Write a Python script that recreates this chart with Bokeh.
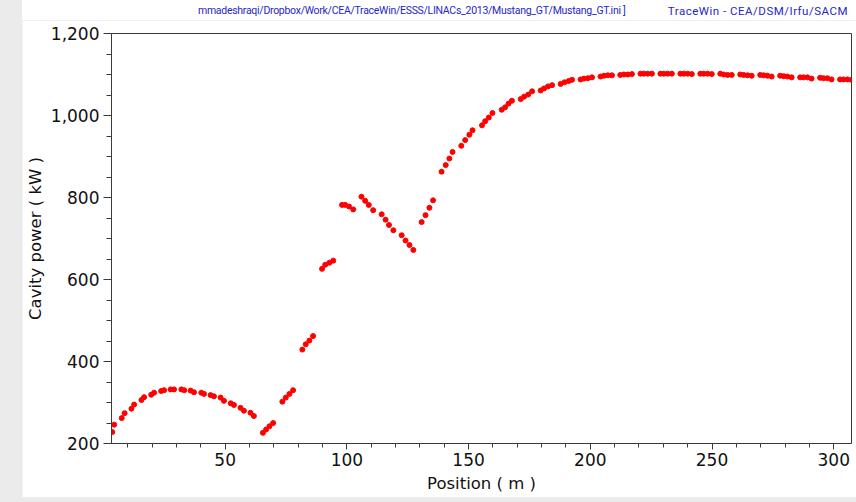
from bokeh.plotting import figure
from bokeh.models import (ColumnDataSource, SingleIntervalTicker, NumeralTickFormatter,
                          Range1d, Spacer, Div)
from bokeh.layouts import row, column
from bokeh.embed import file_html
from bokeh.resources import INLINE

# Cavity positions along the linac (m)
position_m = [
    3.6, 4.4, 7.5, 8.7, 11.5, 12.6, 15.6, 16.7, 19.6, 20.8,
    23.7, 24.9, 27.6, 29.0, 32.0, 33.2, 35.8, 37.2, 40.2, 41.3,
    44.0, 45.4, 48.1, 49.5, 52.3, 53.6, 56.3, 57.7, 60.4, 61.8,
    65.5, 66.8, 68.2, 69.7, 73.5, 74.9, 76.4, 77.9,
    81.7, 83.1, 84.6, 86.1, 89.8, 91.1, 92.8, 94.4,
    98.0, 99.3, 100.9, 102.6, 106.0, 107.5, 109.0, 110.8,
    114.3, 115.9, 117.3, 119.1, 122.5, 124.1, 125.7, 127.3,
    130.7, 132.3, 133.9, 135.4, 138.9, 140.6, 142.1, 143.4,
    147.0, 148.6, 150.3, 151.6, 155.5, 156.8, 158.3, 159.8,
    163.6, 165.0, 166.4, 167.8, 171.4, 172.8, 174.5, 176.1,
    179.6, 181.0, 182.6, 184.3, 187.8, 189.4, 191.1, 192.5,
    196.0, 197.4, 199.0, 200.7, 204.2, 205.6, 207.2, 208.9,
    212.3, 213.8, 215.4, 217.1, 220.6, 222.0, 223.6, 225.3,
    228.8, 230.2, 231.8, 233.5, 237.0, 238.4, 240.0, 241.7,
    245.2, 246.6, 248.2, 249.9, 253.4, 254.8, 256.4, 258.1,
    261.6, 263.0, 264.6, 266.3, 269.8, 271.2, 272.8, 274.5,
    278.0, 279.4, 281.0, 282.7, 286.2, 287.6, 289.2, 290.9,
    294.4, 295.8, 297.4, 299.1, 302.6, 304.0, 305.6, 307.3,
]

# Power delivered by each cavity (kW)
cavity_power_kw = [
    228, 246, 262, 274, 285, 295, 306, 313, 319, 324,
    328, 330, 332, 332, 332, 330, 329, 325, 324, 321,
    318, 315, 312, 304, 298, 294, 287, 280, 275, 267,
    226, 234, 242, 250, 302, 312, 321, 330,
    429, 442, 451, 462, 626, 636, 641, 646,
    782, 782, 778, 771, 802, 792, 782, 769,
    759, 746, 733, 720, 708, 695, 684, 672,
    740, 757, 775, 793, 863, 879, 895, 911,
    926, 940, 953, 964, 976, 986, 995, 1006,
    1014, 1020, 1029, 1036, 1040, 1046, 1051, 1059,
    1061, 1066, 1071, 1074, 1077, 1081, 1084, 1087,
    1088, 1090, 1091, 1093, 1095, 1097, 1098, 1098,
    1099, 1100, 1100, 1101, 1102, 1102, 1102, 1102,
    1102, 1102, 1102, 1102, 1102, 1102, 1102, 1101,
    1102, 1102, 1102, 1101, 1102, 1100, 1099, 1099,
    1100, 1099, 1098, 1097, 1099, 1098, 1097, 1095,
    1097, 1096, 1095, 1093, 1093, 1093, 1093, 1090,
    1092, 1091, 1091, 1088, 1088, 1088, 1088, 1087,
]

file_path_text = "mmadeshraqi/Dropbox/Work/CEA/TraceWin/ESSS/LINACs_2013/Mustang_GT/Mustang_GT.ini ]"
credit_text = "TraceWin - CEA/DSM/Irfu/SACM"

FONT = "DejaVu Sans"
FIG_WIDTH = 834

# --- header strip: input file path on the left, program credit on the right
header_html = (
    '<div style="position:relative;width:834px;height:20px;background:#ffffff;'
    'font-family:Roboto;color:#2626c8;white-space:nowrap;">'
    '<span style="position:absolute;left:176px;top:3px;font-size:10.5px;letter-spacing:-0.28px;">'
    + file_path_text +
    '</span>'
    '<span style="position:absolute;right:8px;top:3px;font-size:11.5px;letter-spacing:0.5px;">'
    + credit_text +
    '</span></div>'
)
header = Div(text=header_html, width=FIG_WIDTH, height=20,
             styles={"background-color": "#ffffff", "margin": "0", "padding": "0"})

# --- main scatter of cavity power against position
source = ColumnDataSource(data=dict(x=position_m, y=cavity_power_kw))

p = figure(
    width=FIG_WIDTH, height=477,
    x_range=Range1d(3.3, 307.3), y_range=Range1d(200, 1200),
    output_backend="svg", toolbar_location=None,
    background_fill_color="white", border_fill_color="white",
    min_border_left=87, min_border_right=5, min_border_top=13, min_border_bottom=54,
)
p.xgrid.visible = False
p.ygrid.visible = False
p.outline_line_color = "#3a3a3a"
p.outline_line_width = 1

p.scatter("x", "y", source=source, size=5, color="#ff0000", line_color="#ff0000")

xa = p.xaxis[0]
xa.ticker = SingleIntervalTicker(interval=50, num_minor_ticks=5)
xa.axis_label = "Position ( m )"
ya = p.yaxis[0]
ya.ticker = SingleIntervalTicker(interval=200, num_minor_ticks=4)
ya.formatter = NumeralTickFormatter(format="0,0")
ya.axis_label = "Cavity power ( kW )"

for ax in (xa, ya):
    ax.axis_line_color = "#3a3a3a"
    ax.major_tick_line_color = "#3a3a3a"
    ax.minor_tick_line_color = "#3a3a3a"
    ax.major_tick_in = 0
    ax.minor_tick_in = 0
    ax.major_label_text_font = FONT
    ax.major_label_text_font_size = "17px"
    ax.major_label_text_color = "#111111"
    ax.axis_label_text_font = FONT
    ax.axis_label_text_font_size = "16.5px"
    ax.axis_label_text_font_style = "normal"
    ax.axis_label_text_color = "#111111"

xa.major_tick_out = 6
xa.minor_tick_out = 4
xa.major_label_standoff = 3
xa.axis_label_standoff = 5
ya.major_tick_out = 8
ya.minor_tick_out = 5
ya.major_label_standoff = 4
ya.axis_label_standoff = 3

layout = row(Spacer(width=22, height=502), column(header, p),
             styles={"background-color": "#ebebeb"})

open("out.html", "w").write(file_html(layout, INLINE))
